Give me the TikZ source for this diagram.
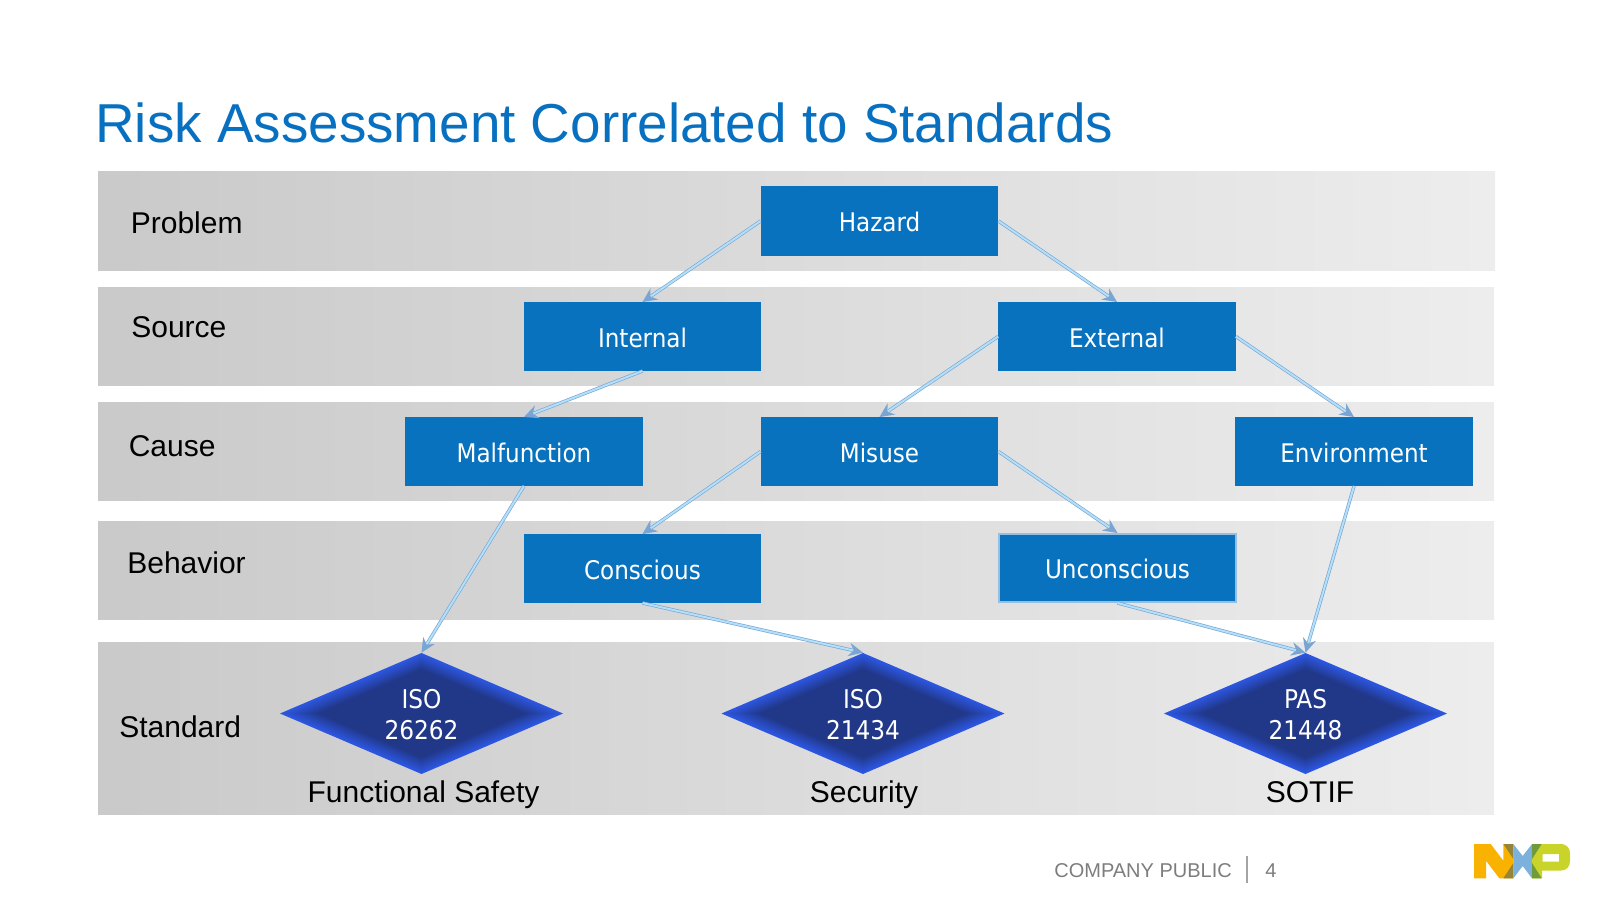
\documentclass[tikz,border=0pt]{standalone}
\usepackage{fontspec}
\setmainfont{Liberation Sans}
\newfontfamily\boxfont{DejaVu Sans Condensed}
\usetikzlibrary{arrows.meta,shapes.geometric}

\definecolor{titleblue}{RGB}{8,112,192}
\definecolor{boxblue}{RGB}{8,114,190}
\definecolor{boxrim}{RGB}{150,190,225}
\definecolor{connedge}{RGB}{122,165,210}
\definecolor{connlight}{RGB}{178,224,250}
\definecolor{diarim}{RGB}{45,88,228}
\definecolor{diacore}{RGB}{33,56,136}
\definecolor{footgray}{RGB}{125,125,125}
\definecolor{nxporange}{RGB}{249,178,0}
\definecolor{nxpbrown}{RGB}{150,132,55}
\definecolor{nxpblue}{RGB}{123,177,219}
\definecolor{nxpgreen}{RGB}{113,155,58}
\definecolor{nxplime}{RGB}{201,212,42}

\tikzset{
  band/.style={left color=black!21,right color=black!7,draw=none},
  rowlabel/.style={anchor=base west,font=\fontsize{18}{20}\selectfont},
  stdlabel/.style={anchor=base,font=\fontsize{18}{20}\selectfont},
  block/.style={fill=boxblue,text=white,minimum width=142.3pt,minimum height=41pt,inner sep=0pt,
    text height=13pt,text depth=0.2pt,font=\boxfont\fontsize{15.4}{18}\selectfont},
  stdshape/.style={diamond,minimum width=169.8pt,minimum height=72.6pt,inner sep=0pt},
  stdtext/.style={text=white,align=center,inner sep=0pt,font=\boxfont\fontsize{15.5}{19}\selectfont},
  conn/.style={draw=connedge,line width=2pt,-{Stealth[length=8.5pt,width=8pt]},
    postaction={draw=connlight,line width=1.2pt,-,shorten >=6pt}},
}

% nested diamonds for the glow at the rim
\newcommand{\stddiamond}[3]{
  \foreach \f in {0,...,24}{
    \pgfmathsetmacro{\sz}{1-.0115*\f}
    \pgfmathsetmacro{\mx}{100-100*\f/24}
    \fill[diarim!\mx!diacore] (#2-141.5*\sz,713.5) -- (#2,713.5-60.5*\sz) -- (#2+141.5*\sz,713.5) -- (#2,713.5+60.5*\sz) -- cycle;
  }
  \node[stdshape] (#1) at (#2,713.5) {};
  \node[stdtext] (#1t) at (#2,714.5) {#3};
}

\begin{document}
\begin{tikzpicture}[x=0.6pt,y=-0.6pt]
  \useasboundingbox (0,0) rectangle (1600,900);

  \node[anchor=base west,text=titleblue,inner sep=0pt,font=\fontsize{32.9}{36}\selectfont] (title) at (95,142) {Risk Assessment Correlated to Standards};

  \fill[band] (98,171) rectangle (1495,270);
  \fill[band] (98,287) rectangle (1494,385.5);
  \fill[band] (98,402) rectangle (1494,500);
  \fill[band] (98,521) rectangle (1494,619);
  \fill[band] (98,642) rectangle (1494,814.5);

  \node[rowlabel,inner sep=0pt] (problem)  at (130.5,233) {Problem};
  \node[rowlabel,inner sep=0pt] (source)   at (131,337) {Source};
  \node[rowlabel,inner sep=0pt] (cause)    at (128.5,456) {Cause};
  \node[rowlabel,inner sep=0pt] (behavior) at (127,573) {Behavior};
  \node[rowlabel,inner sep=0pt] (standard) at (119,737) {Standard};

  \node[block,minimum height=42pt] (hazard) at (879.5,221) {Hazard};
  \node[block] (intern)  at (642.5,336.5)  {Internal};
  \node[block] (extern)  at (1117,336.5)   {External};
  \node[block] (malf)    at (524,451.5)  {Malfunction};
  \node[block] (misuse)  at (879.5,451.5) {Misuse};
  \node[block] (env)     at (1354,451.5) {Environment};
  \node[block] (consc)   at (642.5,568.5)  {Conscious};
  \node[block,draw=boxrim,line width=1pt,minimum height=41pt] (unconsc) at (1117.5,568) {Unconscious};

  \stddiamond{iso1}{421.5}{ISO\\26262}
  \stddiamond{iso2}{863}{ISO\\21434}
  \stddiamond{pas}{1305.5}{PAS\\21448}

  \node[stdlabel,inner sep=0pt] (fusa)  at (423.5,802) {Functional Safety};
  \node[stdlabel,inner sep=0pt] (secur) at (864,802)   {Security};
  \node[stdlabel,inner sep=0pt] (sotif) at (1310,802)  {SOTIF};

  \draw[conn] (hazard.west)  -- (intern.north);
  \draw[conn] (hazard.east)  -- (extern.north);
  \draw[conn] (intern.south) -- (malf.north);
  \draw[conn] (extern.west)  -- (misuse.north);
  \draw[conn] (extern.east)  -- (env.north);
  \draw[conn] (misuse.west)  -- (consc.north);
  \draw[conn] (misuse.east)  -- (unconsc.north);
  \draw[conn] (malf.south)   -- (iso1.north);
  \draw[conn] (consc.south)  -- (iso2.north);
  \draw[conn] (unconsc.south) -- (pas.north);
  \draw[conn] (env.south)    -- (pas.north);

  % footer
  \node[anchor=base west,inner sep=0pt,text=footgray,font=\fontsize{12}{14}\selectfont] (company) at (1054,877) {COMPANY PUBLIC};
  \node[anchor=base west,inner sep=0pt,text=footgray,font=\fontsize{12}{14}\selectfont] (pageno) at (1265,877) {4};
  \draw[footgray!70,line width=.7pt] (1247,856) -- (1247,883);

  % logo
  \begin{scope}[shift={(1460,830)},x=0.2pt,y=-0.2pt]
    \fill[nxporange] (42,42) -- (92,42) -- (130,92) -- (130,42) -- (160,42) -- (160,145) -- (118,145) -- (78,92) -- (78,145) -- (42,145) -- cycle;
    \fill[nxpbrown] (130,42) -- (160,42) -- (160,87) -- cycle;
    \fill[nxpbrown] (130,145) -- (160,145) -- (160,99) -- cycle;
    \fill[nxpblue] (160,42) -- (188,78) -- (216,42) -- (216,145) -- (188,108) -- (160,145) -- cycle;
    \fill[nxplime,even odd rule] (216,42) -- (300,42) .. controls (322,42) and (330,55) .. (330,72) -- (330,92) .. controls (330,110) and (320,122) .. (300,122) -- (246,122) -- (246,145) -- (216,145) -- cycle
      (248,72) rectangle (297,95);
    \fill[nxpgreen] (216,42) -- (245,42) -- (216,87) -- cycle;
    \fill[nxpgreen] (216,145) -- (245,145) -- (216,99) -- cycle;
  \end{scope}
\end{tikzpicture}
\end{document}
